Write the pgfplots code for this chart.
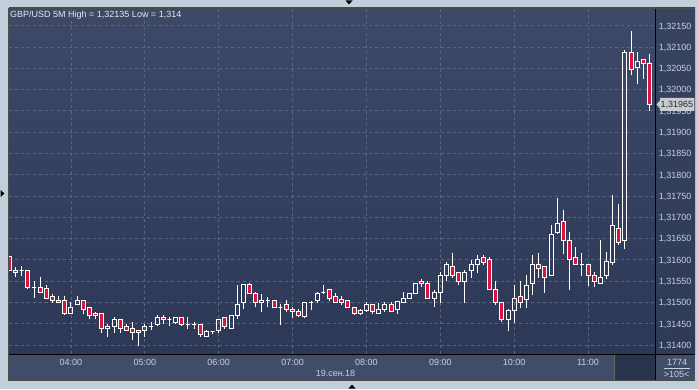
\documentclass[border=0pt]{standalone}
\usepackage{pgfplots}
\pgfplotsset{compat=1.18}
\usepackage{pgfplotstable}
\usepackage{fontspec}
\setmainfont{Liberation Sans}
\newcommand\f{\fontsize{9}{10}\selectfont}
\definecolor{bgLight}{HTML}{C3CEDB}
\definecolor{panelTop}{HTML}{38445F}
\definecolor{panelBot}{HTML}{2E3A56}
\definecolor{plotTop}{HTML}{3D4967}
\definecolor{plotBot}{HTML}{2C3855}
\definecolor{band}{HTML}{3F4D69}
\definecolor{darkBox}{HTML}{28344E}
\definecolor{gridc}{HTML}{5A6681}
\definecolor{labc}{HTML}{C8D1DF}
\definecolor{titlec}{HTML}{E6EAF0}
\definecolor{candRed}{HTML}{DC143C}
\definecolor{tagc}{HTML}{C8CDD3}

\pgfplotstableread{
i o h l c
0 1.31607 1.31609 1.31574 1.31576
1 1.31576 1.31583 1.31559 1.31570
2 1.31575 1.31586 1.31562 1.31575
3 1.31576 1.31576 1.31531 1.31536
4 1.31536 1.31550 1.31510 1.31536
5 1.31536 1.31559 1.31524 1.31524
6 1.31532 1.31541 1.31510 1.31510
7 1.31514 1.31520 1.31499 1.31505
8 1.31505 1.31514 1.31500 1.31500
9 1.31505 1.31514 1.31470 1.31474
10 1.31474 1.31500 1.31474 1.31489
11 1.31496 1.31514 1.31496 1.31505
12 1.31505 1.31505 1.31474 1.31484
13 1.31489 1.31489 1.31460 1.31470
14 1.31474 1.31478 1.31460 1.31470
15 1.31474 1.31474 1.31429 1.31438
16 1.31438 1.31449 1.31419 1.31444
17 1.31444 1.31466 1.31429 1.31460
18 1.31460 1.31460 1.31429 1.31438
19 1.31444 1.31449 1.31435 1.31435
20 1.31438 1.31454 1.31412 1.31429
21 1.31435 1.31435 1.31398 1.31430
22 1.31435 1.31449 1.31419 1.31444
23 1.31444 1.31454 1.31435 1.31444
24 1.31449 1.31470 1.31444 1.31465
25 1.31465 1.31470 1.31449 1.31460
26 1.31460 1.31465 1.31444 1.31460
27 1.31454 1.31465 1.31449 1.31465
28 1.31465 1.31465 1.31444 1.31449
29 1.31449 1.31465 1.31438 1.31449
30 1.31449 1.31454 1.31438 1.31449
31 1.31449 1.31449 1.31419 1.31425
32 1.31419 1.31435 1.31419 1.31431
33 1.31431 1.31431 1.31425 1.31431
34 1.31435 1.31460 1.31429 1.31460
35 1.31465 1.31465 1.31438 1.31444
36 1.31439 1.31470 1.31439 1.31470
37 1.31470 1.31541 1.31460 1.31496
38 1.31499 1.31541 1.31484 1.31541
39 1.31541 1.31546 1.31520 1.31520
40 1.31520 1.31525 1.31489 1.31499
41 1.31499 1.31520 1.31478 1.31504
42 1.31504 1.31513 1.31489 1.31504
43 1.31504 1.31504 1.31489 1.31489
44 1.31489 1.31496 1.31447 1.31489
45 1.31496 1.31506 1.31478 1.31484
46 1.31484 1.31489 1.31463 1.31478
47 1.31479 1.31484 1.31465 1.31470
48 1.31468 1.31499 1.31463 1.31499
49 1.31499 1.31504 1.31482 1.31499
50 1.31504 1.31525 1.31499 1.31520
51 1.31523 1.31541 1.31520 1.31523
52 1.31531 1.31531 1.31504 1.31510
53 1.31513 1.31523 1.31499 1.31499
54 1.31506 1.31515 1.31494 1.31499
55 1.31504 1.31504 1.31489 1.31489
56 1.31489 1.31489 1.31470 1.31474
57 1.31474 1.31484 1.31470 1.31481
58 1.31482 1.31502 1.31478 1.31496
59 1.31496 1.31496 1.31474 1.31478
60 1.31474 1.31499 1.31474 1.31484
61 1.31484 1.31502 1.31478 1.31496
62 1.31496 1.31502 1.31478 1.31478
63 1.31484 1.31502 1.31473 1.31502
64 1.31499 1.31525 1.31499 1.31510
65 1.31510 1.31523 1.31510 1.31520
66 1.31520 1.31546 1.31520 1.31545
67 1.31549 1.31554 1.31536 1.31545
68 1.31545 1.31551 1.31510 1.31510
69 1.31510 1.31529 1.31489 1.31524
70 1.31524 1.31571 1.31499 1.31564
71 1.31564 1.31595 1.31550 1.31590
72 1.31584 1.31615 1.31558 1.31564
73 1.31571 1.31571 1.31540 1.31550
74 1.31550 1.31576 1.31499 1.31571
75 1.31575 1.31600 1.31558 1.31590
76 1.31590 1.31611 1.31570 1.31600
77 1.31606 1.31611 1.31589 1.31594
78 1.31600 1.31606 1.31531 1.31531
79 1.31531 1.31550 1.31494 1.31499
80 1.31499 1.31499 1.31455 1.31460
81 1.31460 1.31485 1.31434 1.31480
82 1.31480 1.31540 1.31451 1.31510
83 1.31515 1.31550 1.31486 1.31500
84 1.31506 1.31564 1.31486 1.31540
85 1.31545 1.31611 1.31518 1.31590
86 1.31590 1.31617 1.31557 1.31580
87 1.31584 1.31584 1.31523 1.31559
88 1.31564 1.31681 1.31564 1.31660
89 1.31665 1.31745 1.31660 1.31686
90 1.31691 1.31717 1.31614 1.31646
91 1.31646 1.31665 1.31530 1.31600
92 1.31606 1.31630 1.31590 1.31590
93 1.31590 1.31615 1.31563 1.31590
94 1.31590 1.31590 1.31539 1.31564
95 1.31564 1.31571 1.31536 1.31550
96 1.31545 1.31647 1.31545 1.31559
97 1.31564 1.31619 1.31554 1.31596
98 1.31594 1.31752 1.31589 1.31681
99 1.31674 1.31732 1.31634 1.31641
100 1.31645 1.32092 1.31625 1.32088
101 1.32088 1.32138 1.32034 1.32046
102 1.32052 1.32088 1.32013 1.32067
103 1.32071 1.32072 1.32025 1.32062
104 1.32062 1.32084 1.31950 1.31965
}\candles

\pgfplotsset{
  wick/.style={draw=white, line width=1pt},
  bull/.style={draw=white, fill=none, line width=1pt},
  bear/.style={draw=white, fill=candRed, line width=1pt},
}

\begin{document}
\begin{tikzpicture}
\useasboundingbox (0pt,0pt) rectangle (698pt,389pt);
\fill[bgLight] (0pt,0pt) rectangle (698pt,389pt);
\fill[panelBot] (8pt,8pt) rectangle (695pt,381pt);
\shade[top color=panelTop, bottom color=panelBot] (655pt,35pt) rectangle (695pt,381pt);
\fill[band] (8pt,8pt) rectangle (695pt,35pt);
\fill[darkBox] (614pt,9pt) rectangle (655pt,34pt);
\draw[black!60, line width=0.8pt] (614.5pt,9pt) -- (614.5pt,34pt);

\begin{axis}[
  at={(9pt,35pt)}, anchor=south west,
  scale only axis, width=646pt, height=346pt,
  xmin=-0.07, xmax=104.88,
  ymin=1.313789, ymax=1.321916,
  axis line style={draw=none},
  major tick length=0pt,
  xtick={10,22,34,46,58,70,82,94},
  xticklabels={04:00,05:00,06:00,07:00,08:00,09:00,10:00,11:00},
  ytick={1.314,1.3145,1.315,1.3155,1.316,1.3165,1.317,1.3175,1.318,1.3185,1.319,1.3195,1.32,1.3205,1.321,1.3215},
  yticklabels={{1,31400},{1,31450},{1,31500},{1,31550},{1,31600},{1,31650},{1,31700},{1,31750},{1,31800},{1,31850},{1,31900},{1,31950},{1,32000},{1,32050},{1,32100},{1,32150}},
  yticklabel pos=right,
  grid=major,
  major grid style={draw=gridc, dash pattern=on 3pt off 3pt, line width=0.8pt},
  ticklabel style={font=\f, text=labc},
  xticklabel style={anchor=base, inner sep=0pt, yshift=-11.5pt},
  yticklabel style={anchor=base west, inner sep=0pt, xshift=3.7pt, yshift=-3.3pt},
  axis background/.style={shade, top color=plotTop, bottom color=plotBot},
]
\pgfplotstablegetrowsof{\candles}
\pgfmathtruncatemacro\lastrow{\pgfplotsretval-1}
\pgfplotsforeachungrouped \rowi in {0,...,\lastrow}{%
  \pgfplotstablegetelem{\rowi}{i}\of\candles \let\ci\pgfplotsretval
  \pgfplotstablegetelem{\rowi}{o}\of\candles \let\co\pgfplotsretval
  \pgfplotstablegetelem{\rowi}{h}\of\candles \let\ch\pgfplotsretval
  \pgfplotstablegetelem{\rowi}{l}\of\candles \let\cl\pgfplotsretval
  \pgfplotstablegetelem{\rowi}{c}\of\candles \let\cc\pgfplotsretval
  \pgfmathsetmacro\xa{\ci-0.325}%
  \pgfmathsetmacro\xb{\ci+0.325}%
  \ifdim\cc pt>\co pt
    \let\lo\co \let\hi\cc \def\bstyle{bull}%
  \else
    \let\lo\cc \let\hi\co \def\bstyle{bear}%
  \fi
  \edef\tmp{%
    \noexpand\addplot[wick] coordinates {(\ci,\cl) (\ci,\lo)};%
    \noexpand\addplot[wick] coordinates {(\ci,\hi) (\ci,\ch)};%
    \noexpand\addplot[\bstyle] coordinates {(\xa,\co) (\xb,\co) (\xb,\cc) (\xa,\cc)} -- cycle;%
  }\tmp
}
\coordinate (tag) at (axis cs:104.88,1.31965);
\end{axis}

% frame lines
\draw[black, line width=1pt] (8pt,34.5pt) -- (695pt,34.5pt);
\draw[black, line width=1pt] (655.5pt,8pt) -- (655.5pt,381pt);
\draw[black!70, line width=0.8pt] (8pt,8.4pt) -- (695pt,8.4pt);
\draw[black!70, line width=0.8pt] (8.4pt,8pt) -- (8.4pt,381pt);
\draw[black!70, line width=0.8pt] (8pt,380.6pt) -- (695pt,380.6pt);

% price tag
\fill[tagc] ([xshift=1.5pt]tag) -- ([xshift=5pt,yshift=4pt]tag) -- ([xshift=5pt,yshift=6.5pt]tag) -- ([xshift=39.3pt,yshift=6.5pt]tag) -- ([xshift=39.3pt,yshift=-6.5pt]tag) -- ([xshift=5pt,yshift=-6.5pt]tag) -- ([xshift=5pt,yshift=-4pt]tag) -- cycle;
\node[anchor=base, inner sep=0pt, text=black!85, font=\f] at ([xshift=21.8pt,yshift=-3.3pt]tag) {1,31965};

% texts
\node[anchor=base west, inner sep=0pt, text=titlec, font=\f] at (10pt,371pt) {GBP/USD 5M High = 1,32135 Low = 1,314};
\node[anchor=base, inner sep=0pt, text=labc, font=\f] at (335.5pt,12.3pt) {19.сен.18};
\node[anchor=base, inner sep=0pt, text=labc, font=\f] at (677pt,23.3pt) {1774};
\node[anchor=base, inner sep=0pt, text=labc, font=\f] at (676.7pt,11.7pt) {>105<};
\draw[labc, line width=0.7pt] (664pt,20.7pt) -- (690pt,20.7pt);

% small pointers
\fill[black] (345.5pt,388.5pt) -- (352.5pt,388.5pt) -- (349pt,384.5pt) -- cycle;
\fill[black] (0.5pt,199pt) -- (0.5pt,192pt) -- (4.5pt,195.5pt) -- cycle;
\fill[black] (348.5pt,0.5pt) -- (355.5pt,0.5pt) -- (352pt,4.5pt) -- cycle;
\end{tikzpicture}
\end{document}
